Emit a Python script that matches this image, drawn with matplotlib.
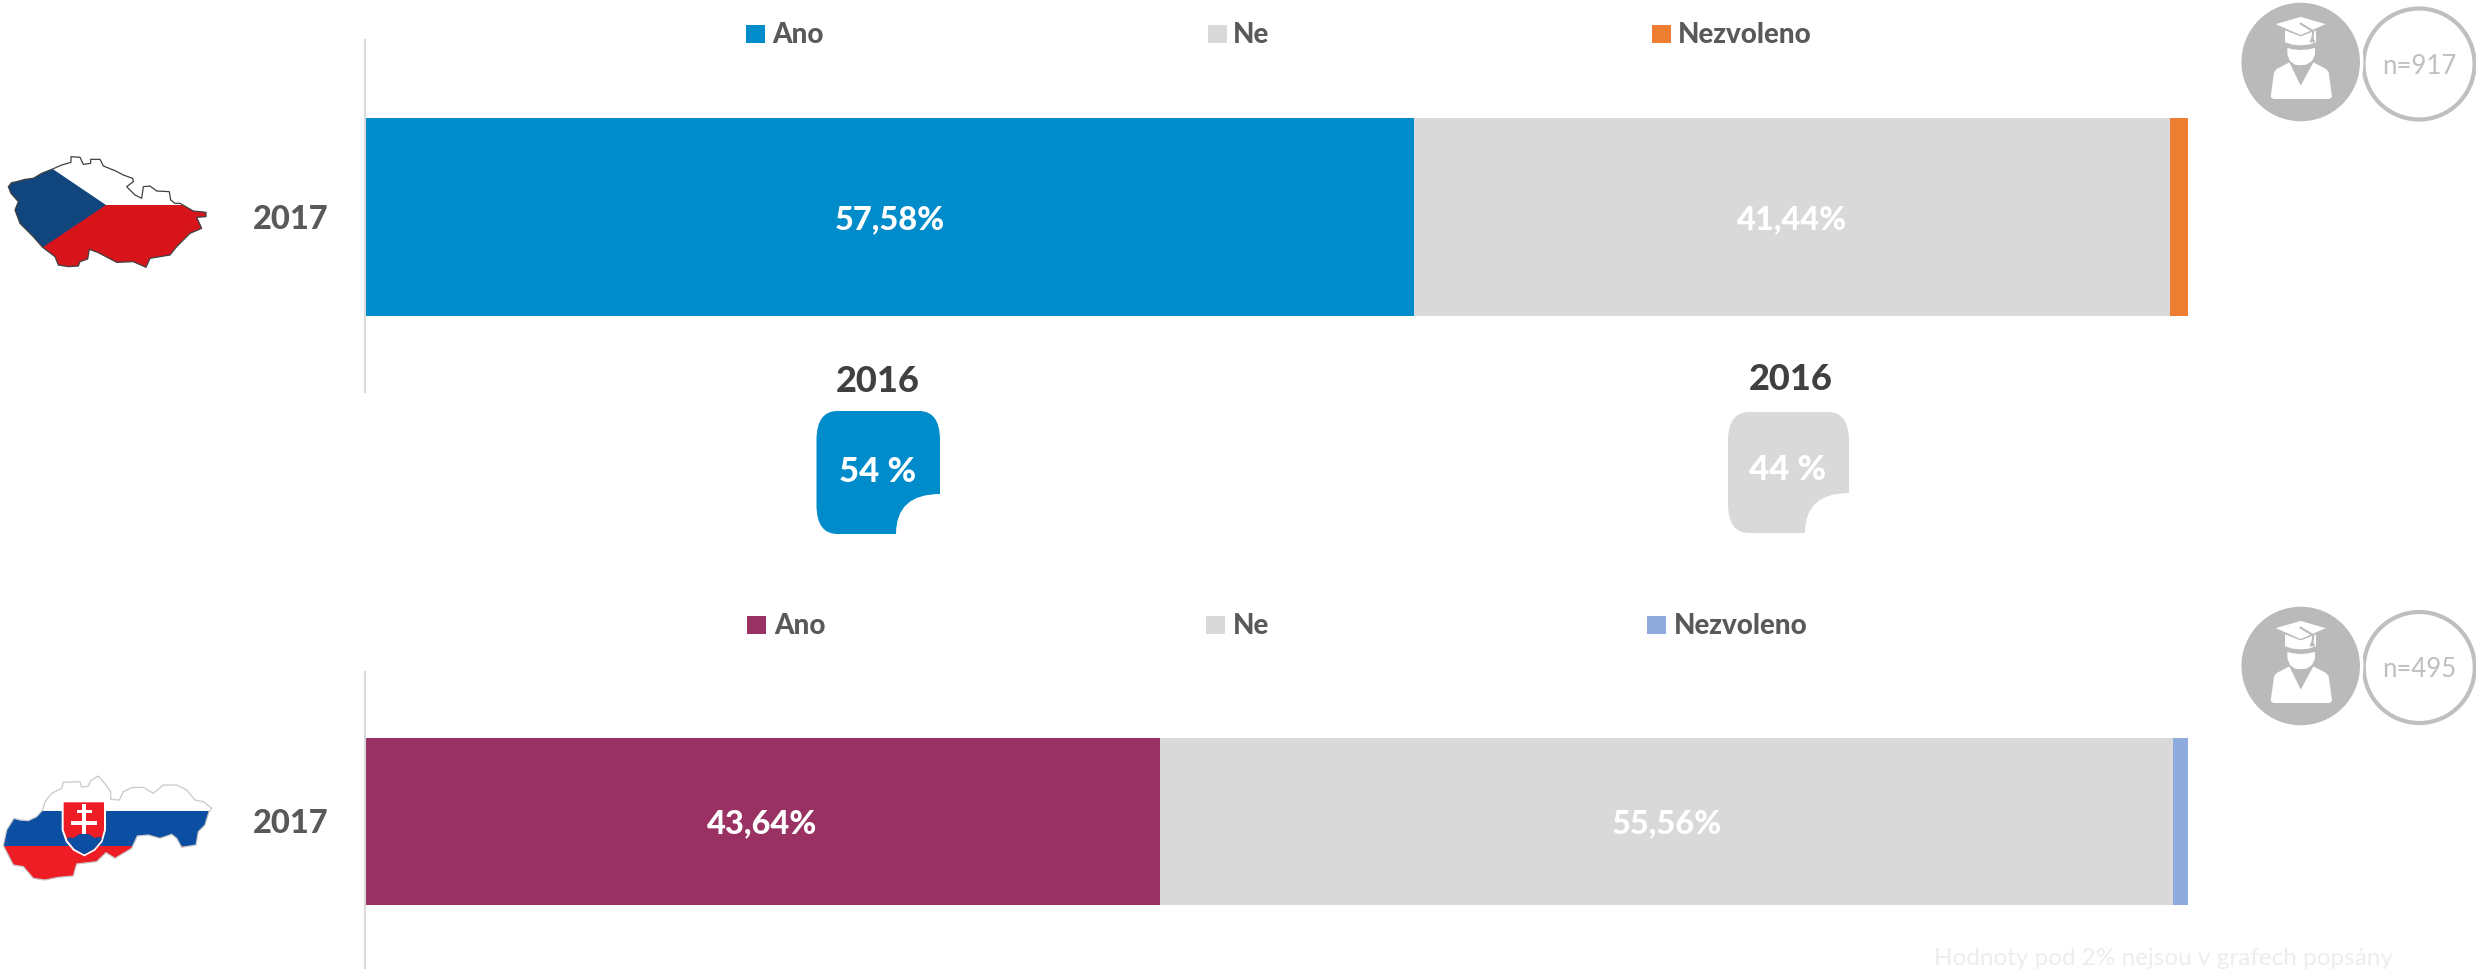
import matplotlib
matplotlib.use("Agg")
import matplotlib.pyplot as plt
from matplotlib.patches import Polygon, Rectangle, Circle, PathPatch
from matplotlib.path import Path

plt.rcParams['font.family'] = ['Lato', 'DejaVu Sans']

W, H = 2476, 969
CATEGORIES = ['Ano', 'Ne', 'Nezvoleno']
YEAR = '2017'
CZ_VALUES = [57.58, 41.44, 0.98]
SK_VALUES = [43.64, 55.56, 0.80]
CZ_LABELS = ['57,58%', '41,44%', None]
SK_LABELS = ['43,64%', '55,56%', None]
CZ_COLORS = ['#008BCB', '#D9D9D9', '#ED7D31']
SK_COLORS = ['#993263', '#D9D9D9', '#8FAADC']
CZ_N = 'n=917'
SK_N = 'n=495'
PREV_YEAR = '2016'
PREV_LABELS = ['54 %', '44 %']
NOTE = 'Hodnoty pod 2% nejsou v grafech popsány'
HEAVY = 'black'

fig = plt.figure(figsize=(W / 100, H / 100), dpi=100, facecolor='white')


def make_axes(top, bottom, left=364.5, right=2188):
    return fig.add_axes([left / W, 1 - bottom / H, (right - left) / W, (bottom - top) / H])


def stacked(ax, values, labels, colors, ypos):
    left = 0
    for v, lab, c in zip(values, labels, colors):
        ax.barh(ypos, v, left=left, height=0.56, color=c, linewidth=0)
        if lab:
            ax.annotate(lab, (left + v / 2, ypos), xytext=(0, -2), textcoords='offset points',
                        ha='center', va='center', color='white', fontsize=23.5, fontweight=HEAVY)
        left += v
    ax.set_xlim(0, 100)
    ax.set_ylim(0, 1)
    ax.set_xticks([])
    ax.set_yticks([ypos], [YEAR], fontsize=23.5, fontweight=HEAVY, color='#595959')
    ax.tick_params(axis='y', length=0, pad=26)
    for lbl in ax.get_yticklabels():
        lbl.set_y(ypos)
    for s in ('top', 'right', 'bottom'):
        ax.spines[s].set_visible(False)
    ax.spines['left'].set_color('#D9D9D9')
    ax.spines['left'].set_linewidth(1.5)
    ax.patch.set_alpha(0)


ax1 = make_axes(40, 392)
stacked(ax1, CZ_VALUES, CZ_LABELS, CZ_COLORS, 0.497)
ax2 = make_axes(672, 969)
stacked(ax2, SK_VALUES, SK_LABELS, SK_COLORS, 0.497)

# Overlay in pixel coordinates for the decoration
ov = fig.add_axes([0, 0, 1, 1], zorder=5)
ov.set_xlim(0, W)
ov.set_ylim(H, 0)
ov.axis('off')
ov.patch.set_alpha(0)


def legend_row(items, y, colors):
    for (sx, tx, name), c in zip(items, colors):
        ov.add_patch(Rectangle((sx, y - 9), 19, 18, color=c, lw=0))
        ov.text(tx, y + 1, name, ha='left', va='center', fontsize=20, fontweight=HEAVY, color='#595959')


legend_row([(746, 772, CATEGORIES[0]), (1208, 1233, CATEGORIES[1]), (1652, 1678, CATEGORIES[2])], 34, CZ_COLORS)
legend_row([(747, 774, CATEGORIES[0]), (1206, 1233, CATEGORIES[1]), (1647, 1674, CATEGORIES[2])], 624.5, SK_COLORS)


def tab(x0, x1, y0, y1, color):
    r = 21
    b = 44
    M, L, C = Path.MOVETO, Path.LINETO, Path.CURVE3
    verts = [(x0 + r, y0), (x1 - r, y0), (x1, y0), (x1, y0 + r + 8),
             (x1, y1 - b + 4), (x1 - b, y1 - b + 4), (x1 - b, y1),
             (x0 + r, y1), (x0, y1), (x0, y1 - r - 8),
             (x0, y0 + r + 8), (x0, y0), (x0 + r, y0)]
    codes = [M, L, C, C, L, C, C, L, C, C, L, C, C]
    ov.add_patch(PathPatch(Path(verts, codes), facecolor=color, edgecolor='none'))


tab(816.5, 940, 411, 534, CZ_COLORS[0])
tab(1728, 1849, 412, 533, CZ_COLORS[1])
ov.text(878, 381, PREV_YEAR, ha='center', va='center', fontsize=26, fontweight=HEAVY, color='#404040')
ov.text(1791, 379, PREV_YEAR, ha='center', va='center', fontsize=26, fontweight=HEAVY, color='#404040')
ov.text(878, 472, PREV_LABELS[0], ha='center', va='center', fontsize=25, fontweight=HEAVY, color='white')
ov.text(1788, 470, PREV_LABELS[1], ha='center', va='center', fontsize=25, fontweight=HEAVY, color='white')

ov.text(2163, 969, NOTE, ha='center', va='bottom', fontsize=17.5, color='#EDEDED')


def student(cx, cy, rx, ry, label):
    GR = '#BABABA'
    ov.add_patch(Circle((rx, ry), 55.5, facecolor='white', edgecolor='#BFBFBF', lw=3))
    ov.add_patch(Circle((cx, cy), 61, facecolor=GR, edgecolor='white', lw=2.5))
    ov.text(rx, ry + 2, label, ha='center', va='center', fontsize=18.5, color='#BFBFBF')
    s = 1 / 3
    def pts(p):
        return [(cx + (x - 452) * s, cy + (y - 187) * s) for x, y in p]
    ov.add_patch(Polygon(pts([(362, 292), (372, 218), (380, 208), (418, 188), (452, 258), (490, 188),
                              (528, 208), (536, 218), (546, 292), (538, 298), (370, 298)]),
                         facecolor='white', edgecolor='none'))
    ov.add_patch(Polygon(pts([(410, 142), (430, 147), (452, 149), (475, 147), (497, 142), (497, 165), (488, 185),
                              (470, 197), (452, 199), (434, 197), (418, 185), (410, 165)]),
                         facecolor='white', edgecolor=GR, lw=1))
    ov.add_patch(Polygon(pts([(405, 92), (452, 110), (498, 92), (498, 128), (475, 135), (452, 137), (428, 135), (405, 128)]),
                         facecolor='white', edgecolor='none'))
    ov.add_patch(Polygon(pts([(372, 73), (452, 50), (532, 73), (452, 108)]),
                         facecolor='white', edgecolor=GR, lw=0.8))
    ov.plot(*zip(*pts([(452, 72), (490, 95), (487, 115)])), color=GR, lw=1.5)
    ov.add_patch(Polygon(pts([(487, 108), (496, 128), (478, 128)]), facecolor=GR, edgecolor='none'))


student(2300.7, 62, 2419, 64, CZ_N)
student(2300.7, 666, 2419.3, 667.5, SK_N)


def map_pts(p, dy):
    return [(x / 3, y / 3 + dy) for x, y in p]


# Czech map
cz = map_pts([(25, 170), (35, 158), (50, 155), (75, 148), (100, 145), (125, 130), (158, 117), (185, 105), (213, 97),
              (213, 80), (240, 82), (250, 103), (272, 100), (272, 88), (300, 88), (310, 108), (345, 122), (370, 135),
              (398, 145), (400, 155), (380, 170), (405, 195), (425, 205), (430, 170), (450, 168), (470, 183), (508, 185),
              (512, 210), (525, 220), (540, 220), (580, 243), (618, 247), (618, 260), (590, 262), (605, 295), (570, 310),
              (530, 350), (510, 375), (450, 385), (438, 412), (400, 395), (350, 397), (295, 368), (268, 358), (263, 387),
              (240, 395), (235, 408), (205, 410), (175, 405), (165, 380), (128, 352), (100, 320), (75, 295), (60, 280),
              (45, 240), (55, 215), (33, 190)], 130)
clip = Polygon(cz, transform=ov.transData, facecolor='white', edgecolor='none')
ov.add_patch(clip)
red = Polygon(map_pts([(0, 225), (640, 225), (640, 430), (0, 430)], 130), facecolor='#D7141A', edgecolor='none')
ov.add_patch(red)
red.set_clip_path(clip)
blue = Polygon(map_pts([(0, 60), (130, 98), (158, 117), (318, 225), (128, 352), (0, 430)], 130), facecolor='#11457E', edgecolor='none')
ov.add_patch(blue)
blue.set_clip_path(clip)
ov.add_patch(Polygon(cz, facecolor='none', edgecolor='#404040', lw=0.9))

# Slovak map
sk = map_pts([(10, 287), (20, 240), (42, 205), (60, 210), (85, 212), (110, 200), (128, 180), (135, 155), (155, 130),
              (185, 115), (190, 97), (240, 95), (245, 112), (265, 108), (272, 92), (295, 78), (318, 105), (332, 125),
              (332, 148), (358, 150), (370, 125), (395, 113), (430, 112), (460, 130), (490, 105), (530, 105), (560, 120),
              (585, 150), (610, 155), (635, 175), (627, 185), (615, 225), (595, 245), (588, 285), (545, 292), (530, 265),
              (515, 253), (480, 265), (445, 255), (412, 258), (395, 295), (345, 325), (318, 308), (290, 335), (230, 342),
              (220, 378), (175, 382), (135, 390), (100, 385), (70, 350), (40, 345), (22, 310)], 750)
clip2 = Polygon(sk, facecolor='white', edgecolor='none')
ov.add_patch(clip2)
for (y0, y1, c) in [(183, 287, '#0B4EA2'), (287, 420, '#EE1C25')]:
    band = Polygon(map_pts([(0, y0), (650, y0), (650, y1), (0, y1)], 750), facecolor=c, edgecolor='none')
    ov.add_patch(band)
    band.set_clip_path(clip2)
ov.add_patch(Polygon(sk, facecolor='none', edgecolor='#C8C8C8', lw=0.9, zorder=1.5))
shield = [(185, 157), (318, 157), (318, 240), (308, 275), (285, 302), (253, 319), (220, 302), (197, 275), (185, 240)]
ov.add_patch(Polygon(map_pts(shield, 750), facecolor='white', edgecolor='none', zorder=2))
inner = [(191, 157), (312, 157), (312, 240), (303, 272), (282, 297), (253, 313), (224, 297), (203, 272), (191, 240)]
inner_p = Polygon(map_pts(inner, 750), facecolor='#EE1C25', edgecolor='none', zorder=2)
ov.add_patch(inner_p)
hills = Polygon(map_pts([(195, 272), (205, 262), (222, 264), (235, 254), (252, 250), (270, 254), (283, 264), (300, 260),
                         (312, 272), (312, 330), (195, 330)], 750), facecolor='#0B4EA2', edgecolor='none', zorder=2)
ov.add_patch(hills)
hills.set_clip_path(inner_p)
ov.add_patch(Polygon(map_pts([(247, 163), (259, 163), (259, 180), (276, 180), (276, 190), (259, 190), (259, 212), (292, 212),
                              (292, 224), (259, 224), (259, 252), (247, 252), (247, 224), (214, 224), (214, 212), (247, 212),
                              (247, 190), (230, 190), (230, 180), (247, 180)], 750), facecolor='white', edgecolor='none', zorder=2))

fig.savefig('out.png', dpi=100, facecolor='white')
